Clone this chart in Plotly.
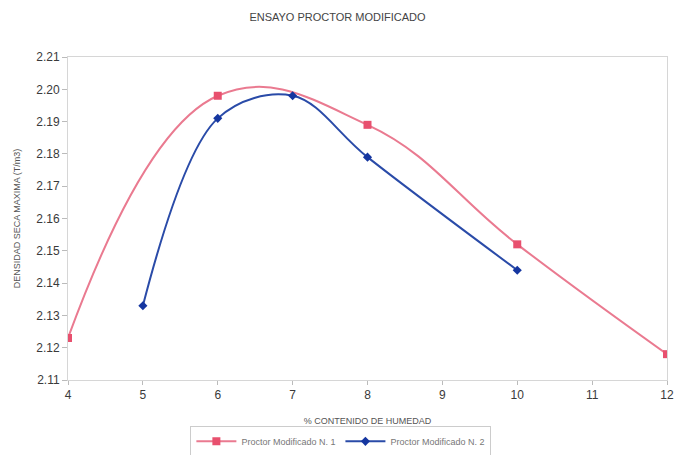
import plotly.graph_objects as go

# Moisture content (%) and maximum dry density (T/m3) for each Proctor test
humedad_1 = [4, 6, 8, 10, 12]
densidad_1 = [2.123, 2.198, 2.189, 2.152, 2.118]

humedad_2 = [5, 6, 7, 8, 10]
densidad_2 = [2.133, 2.191, 2.198, 2.179, 2.144]

y_ticks = [2.11, 2.12, 2.13, 2.14, 2.15, 2.16, 2.17, 2.18, 2.19, 2.20, 2.21]
x_ticks = [4, 5, 6, 7, 8, 9, 10, 11, 12]

fig = go.Figure()
fig.add_trace(go.Scatter(
    x=humedad_1, y=densidad_1, name="Proctor Modificado N. 1",
    mode="lines+markers",
    line=dict(color="#EA7A90", width=2, shape="spline", smoothing=1.2),
    marker=dict(symbol="square", size=8, color="#E8506E"),
))
fig.add_trace(go.Scatter(
    x=humedad_2, y=densidad_2, name="Proctor Modificado N. 2",
    mode="lines+markers",
    line=dict(color="#2A4BA8", width=2, shape="spline", smoothing=1.0),
    marker=dict(symbol="diamond", size=7, color="#1536A0"),
))

axis_font = dict(family="Liberation Sans, Arial", size=12, color="#3A3A3A")
title_font = dict(family="Liberation Sans, Arial", size=9, color="#555555")

fig.update_layout(
    width=675, height=455,
    margin=dict(l=68, r=8, t=57, b=75, autoexpand=False),
    paper_bgcolor="white", plot_bgcolor="white",
    title=dict(text="ENSAYO PROCTOR MODIFICADO", x=0.5, xanchor="center",
               y=0.962, yanchor="middle",
               font=dict(family="Liberation Sans, Arial", size=11, color="#444444")),
    xaxis=dict(range=[4, 12], tickvals=x_ticks, showgrid=False, zeroline=False,
               automargin=False,
               showline=True, mirror=True, linecolor="#D6D6D6", linewidth=1,
               ticks="outside", ticklen=4, tickcolor="#BBBBBB",
               tickfont=axis_font,
               title=dict(text="% CONTENIDO DE HUMEDAD", font=title_font, standoff=16)),
    yaxis=dict(range=[2.11, 2.21], tickvals=y_ticks, tickformat=".2f",
               showgrid=False, zeroline=False, automargin=False,
               showline=True, mirror=True, linecolor="#D6D6D6", linewidth=1,
               ticks="outside", ticklen=5, tickcolor="#BBBBBB",
               tickfont=axis_font,
               title=dict(text="DENSIDAD SECA MAXIMA (T/m3)", font=title_font, standoff=14)),
    legend=dict(orientation="h", xref="container", yref="container",
                x=0.505, xanchor="center", y=0.03, yanchor="middle",
                bordercolor="#CCCCCC", borderwidth=1, itemwidth=40,
                font=dict(family="Liberation Sans, Arial", size=9, color="#777777")),
    showlegend=True,
)

fig.write_html("out.html")
